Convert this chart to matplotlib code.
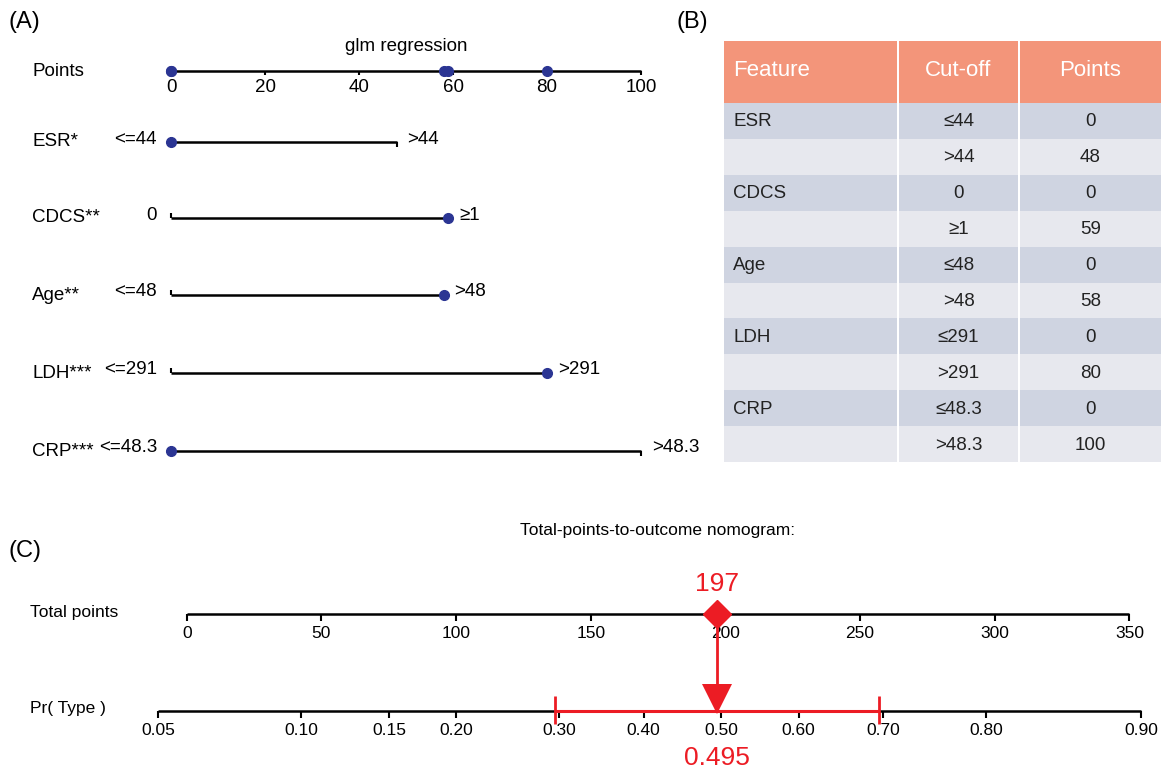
import numpy as np
import matplotlib
matplotlib.use("Agg")
import matplotlib.pyplot as plt
from matplotlib.patches import Rectangle

# ---- data ----
features = ["ESR*", "CDCS**", "Age**", "LDH***", "CRP***"]
low_labels = ["<=44", "0", "<=48", "<=291", "<=48.3"]
high_labels = [">44", "≥1", ">48", ">291", ">48.3"]
high_points = [48, 59, 58, 80, 100]
patient_points = [0, 59, 58, 80, 0]
point_ticks = [0, 20, 40, 60, 80, 100]

table_feature = ["ESR", "", "CDCS", "", "Age", "", "LDH", "", "CRP", ""]
table_cutoff = ["≤44", ">44", "0", "≥1", "≤48", ">48", "≤291", ">291", "≤48.3", ">48.3"]
table_points = [0, 48, 0, 59, 0, 58, 0, 80, 0, 100]

total_ticks = [0, 50, 100, 150, 200, 250, 300, 350]
prob_ticks = [0.05, 0.10, 0.15, 0.20, 0.30, 0.40, 0.50, 0.60, 0.70, 0.80, 0.90]
total_score = 197
pred_prob = 0.495
ci_low, ci_high = 0.296, 0.695
logit_slope = 0.01409      # logit change per total point
logit_center = 198.4       # total points where Pr = 0.5

# ---- style ----
W, H = 1166, 771
NAVY = "#2b3593"
RED = "#ec1c24"
SALMON = "#f3957a"
ROW_DARK = "#cfd4e1"
ROW_LIGHT = "#e7e8ee"
SANS = ["Liberation Sans", "DejaVu Sans"]
plt.rcParams["font.family"] = SANS


def px_axes(fig, x0, y0, x1, y1):
    ax = fig.add_axes([x0 / W, 1 - y1 / H, (x1 - x0) / W, (y1 - y0) / H])
    ax.set_axis_off()
    return ax


def prob_to_points(p):
    p = np.asarray(p, dtype=float)
    return logit_center + np.log(p / (1 - p)) / logit_slope


fig = plt.figure(figsize=(W / 100, H / 100), dpi=100)

# ---- panel A: nomogram ----
axa = px_axes(fig, 0, 30, 700, 480)
a_px = 4.7
a_zero = 171
axa.set_xlim(-a_zero / a_px, (700 - a_zero) / a_px)
axa.set_ylim(480, 30)
rows_y = [142, 218, 295, 373, 451]
pts_y = 71
name_x = 32 / a_px - a_zero / a_px

axa.plot([0, 100], [pts_y, pts_y], color="black", lw=1.8, solid_capstyle="butt")
axa.vlines(point_ticks, pts_y, pts_y + 4, color="black", lw=1.5)
for t in point_ticks:
    axa.text(t, pts_y + 8, str(t), ha="center", va="top", fontsize=13.5)
axa.plot(patient_points, [pts_y] * len(patient_points), "o", color=NAVY, ms=7, zorder=3)
axa.text(name_x, pts_y, "Points", ha="left", va="center", fontsize=13.5)
axa.text(50, pts_y - 16, "glm regression", ha="center", va="bottom", fontsize=13.5)

for name, lo, hi, hp, pp, y in zip(features, low_labels, high_labels, high_points, patient_points, rows_y):
    axa.plot([0, hp], [y, y], color="black", lw=1.8, solid_capstyle="butt")
    axa.vlines(0, y - 5, y, color="black", lw=1.5)
    axa.vlines(hp, y, y + 5, color="black", lw=1.5)
    axa.plot([pp], [y], "o", color=NAVY, ms=7, zorder=3)
    axa.text(name_x, y, name, ha="left", va="center", fontsize=13.5)
    axa.text(-14 / a_px, y - 3, lo, ha="right", va="center", fontsize=13.5)
    axa.text(hp + 11 / a_px, y - 3, hi, ha="left", va="center", fontsize=13.5)

# ---- panel B: table ----
axb = px_axes(fig, 724, 41, 1161, 462)
axb.set_xlim(724, 1161)
axb.set_ylim(462, 41)
col_edges = [(724, 897), (899, 1018), (1020, 1161)]
header_bottom = 103
row_h = (462 - header_bottom) / len(table_cutoff)
for x0, x1 in col_edges:
    axb.add_patch(Rectangle((x0, 41), x1 - x0, header_bottom - 41, color=SALMON, lw=0))
headers = ["Feature", "Cut-off", "Points"]
hx = [733, (col_edges[1][0] + col_edges[1][1]) / 2, (col_edges[2][0] + col_edges[2][1]) / 2]
ha = ["left", "center", "center"]
for h, x, a in zip(headers, hx, ha):
    axb.text(x, 71, h, ha=a, va="center", fontsize=16, color="white")
for i, (f, c, p) in enumerate(zip(table_feature, table_cutoff, table_points)):
    y0 = header_bottom + i * row_h
    col = ROW_DARK if i % 2 == 0 else ROW_LIGHT
    for x0, x1 in col_edges:
        axb.add_patch(Rectangle((x0, y0), x1 - x0, row_h, color=col, lw=0))
    yc = y0 + row_h / 2 + 1
    tk = dict(va="center", fontsize=13.5, color="#222222")
    axb.text(733, yc, f, ha="left", **tk)
    axb.text(hx[1], yc, c, ha="center", **tk)
    axb.text(hx[2], yc, str(p), ha="center", **tk)

# ---- panel C: total points to outcome ----
axc = px_axes(fig, 0, 500, W, H)
c_px = 2.6935
c_zero = 186.7
axc.set_xlim(-c_zero / c_px, (W - c_zero) / c_px)
axc.set_ylim(H, 500)
tot_y = 614
pr_y = 711
label_x = 30 / c_px - c_zero / c_px

axc.text((658 - c_zero) / c_px, 530, "Total-points-to-outcome nomogram:", ha="center", va="center",
         fontsize=12.5)
axc.plot([total_ticks[0], total_ticks[-1]], [tot_y, tot_y], color="black", lw=1.8, solid_capstyle="butt")
axc.vlines(total_ticks, tot_y, tot_y + 7, color="black", lw=1.5)
for t in total_ticks:
    axc.text(t, tot_y + 12, str(t), ha="center", va="top", fontsize=12.5)
axc.text(label_x, tot_y - 2, "Total points", ha="left", va="center", fontsize=12.5)

prob_x = prob_to_points(prob_ticks)
axc.plot([prob_x[0], prob_x[-1]], [pr_y, pr_y], color="black", lw=1.8, solid_capstyle="butt")
axc.vlines(prob_x, pr_y, pr_y + 7, color="black", lw=1.5)
for p, x in zip(prob_ticks, prob_x):
    axc.text(x, pr_y + 12, f"{p:.2f}", ha="center", va="top", fontsize=12.5)
axc.text(label_x, pr_y - 3, "Pr( Type )", ha="left", va="center", fontsize=12.5)

ci_x = prob_to_points([ci_low, ci_high])
axc.plot(ci_x, [pr_y, pr_y], color=RED, lw=2.2, solid_capstyle="butt", zorder=3)
axc.vlines(ci_x, pr_y - 15, pr_y + 13, color=RED, lw=2, zorder=3)

axc.plot([total_score, total_score], [tot_y, pr_y - 20], color=RED, lw=2, zorder=3)
axc.plot([total_score], [tot_y], "D", color=RED, ms=14, zorder=4)
axc.plot([prob_to_points(pred_prob)], [pr_y - 12], "v", color=RED, ms=22, zorder=4,
         markeredgewidth=0)
axc.text(total_score, tot_y - 18, str(total_score), ha="center", va="bottom", fontsize=19, color=RED)
axc.text(prob_to_points(pred_prob), pr_y + 35, f"{pred_prob:.3f}", ha="center", va="top", fontsize=19,
         color=RED)

# panel letters
for lab, x, y in [("(A)", 8, 22), ("(B)", 676, 22), ("(C)", 8, 551)]:
    fig.text(x / W, 1 - y / H, lab, ha="left", va="center", fontsize=17)

fig.savefig("out.png", dpi=100)
